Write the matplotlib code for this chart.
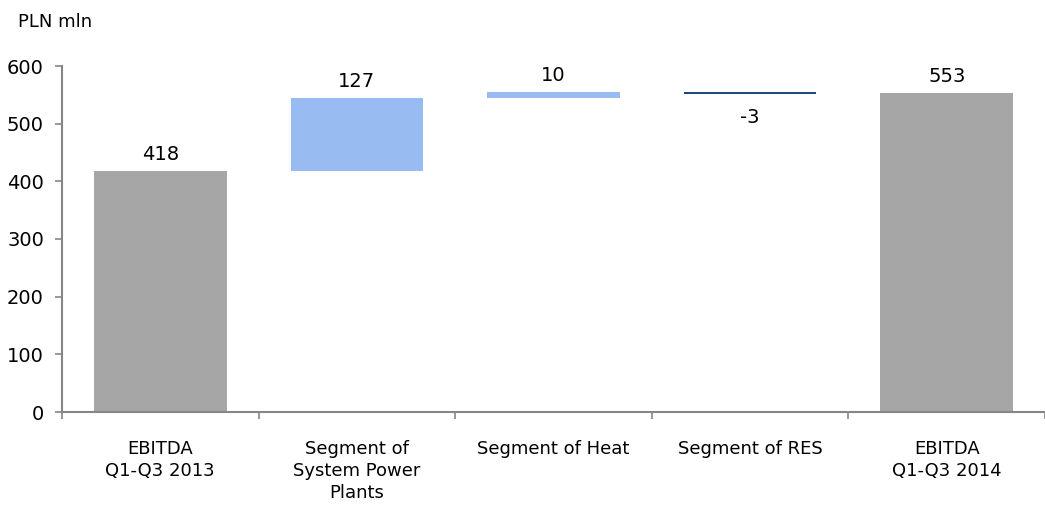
import numpy as np
import matplotlib
matplotlib.use("Agg")
import matplotlib.pyplot as plt

categories = ["EBITDA\nQ1-Q3 2013", "Segment of\nSystem Power\nPlants", "Segment of Heat",
              "Segment of RES", "EBITDA\nQ1-Q3 2014"]
start_value = 418
deltas = [127, 10, -3]
end_value = 553
labels = ["418", "127", "10", "-3", "553"]

gray = "#A6A6A6"
light_blue = "#98BBF1"
dark_blue = "#1F497D"
axis_col = "#868686"

plt.rcParams["font.family"] = ["DejaVu Sans"]

fig = plt.figure(figsize=(10.45, 5.07), dpi=100)
ax = fig.add_axes([62 / 1045, (507 - 412) / 507, 983 / 1045, 346 / 507])

# waterfall bottoms / heights
heights = [start_value] + deltas + [end_value]
bottoms = [0]
run = start_value
for d in deltas:
    bottoms.append(run if d >= 0 else run + d)
    run += d
bottoms.append(0)
bar_h = [abs(h) for h in heights]
colors = [gray, light_blue, light_blue, dark_blue, gray]

x = np.arange(len(categories))
ax.bar(x, bar_h, bottom=bottoms, width=0.675, color=colors, linewidth=0)

for i, lab in enumerate(labels):
    top = bottoms[i] + bar_h[i]
    if heights[i] < 0:
        ax.annotate(lab, (x[i], bottoms[i]), xytext=(0, -21), textcoords="offset points",
                    ha="center", va="baseline", fontsize=14)
    else:
        ax.annotate(lab, (x[i], top), xytext=(0, 8), textcoords="offset points",
                    ha="center", va="baseline", fontsize=14)

ax.set_ylim(0, 600)
ax.set_xlim(-0.5, -0.5 + 983 / 198.75)
ax.set_yticks(np.arange(0, 601, 100))
ax.tick_params(axis="y", labelsize=14, length=5, width=1.2, color=axis_col, pad=8)

ax.set_xticks(x)
ax.set_xticklabels(categories, fontsize=13, linespacing=1.3)
ax.tick_params(axis="x", length=0, pad=20)
ax.set_xticks(np.arange(-0.5, 4.6, 1), minor=True)
ax.tick_params(axis="x", which="minor", length=5, width=1.2, color=axis_col)

for s in ["top", "right"]:
    ax.spines[s].set_visible(False)
for s in ["left", "bottom"]:
    ax.spines[s].set_color(axis_col)
    ax.spines[s].set_linewidth(1.5)

fig.text(18 / 1045, 1 - 22 / 507, "PLN mln", fontsize=13, va="center", ha="left")

fig.savefig("out.png", dpi=100)
